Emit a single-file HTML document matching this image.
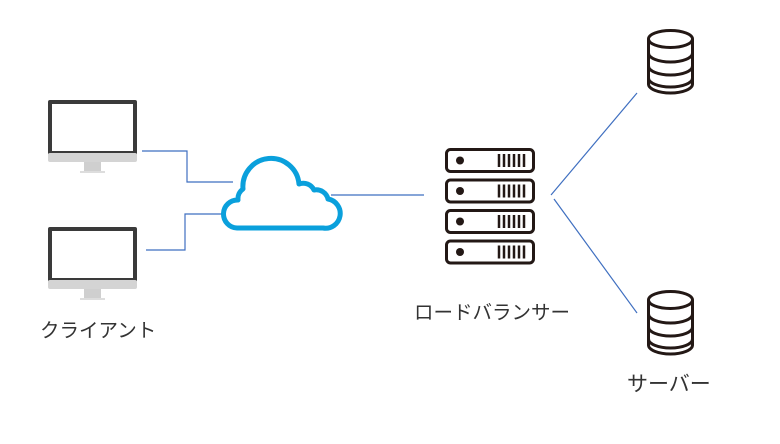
<!DOCTYPE html>
<html><head><meta charset="utf-8"><style>
body{margin:0;background:#fff;width:780px;height:444px;overflow:hidden}
svg{display:block}
text{font-family:"Liberation Sans","Noto Sans CJK JP",sans-serif;font-size:19.5px;fill:#333}
</style></head><body>
<svg width="780" height="444" viewBox="0 0 780 444" xmlns="http://www.w3.org/2000/svg">
<defs>
<g id="mon">
<rect x="0" y="0" width="89" height="55" rx="2" fill="#3a3a3a"/>
<rect x="4" y="4" width="81" height="47" fill="#fff"/>
<rect x="0" y="53" width="89" height="9" rx="2" fill="#d4d4d4"/>
<rect x="36" y="62" width="17" height="10" fill="#cfcfcf"/>
<rect x="32" y="71" width="25" height="2" fill="#ddd"/>
</g>
<g id="srv">
<rect x="1.5" y="1.5" width="87" height="22" rx="4" fill="#fff" stroke="#231815" stroke-width="3"/>
<circle cx="15" cy="12.5" r="4" fill="#231815"/>
<path d="M54 6v13M59 6v13M64 6v13M69 6v13M74 6v13M79 6v13" stroke="#231815" stroke-width="2.5"/>
</g>
<g id="db" fill="#fff" stroke="#231815" stroke-width="3">
<path d="M1.5 10v45a22 9 0 0 0 44 0v-45"/>
<path d="M1.5 24a22 9 0 0 0 44 0M1.5 37a22 9 0 0 0 44 0M1.5 49a22 9 0 0 0 44 0" fill="none"/>
<ellipse cx="23.5" cy="10" rx="22" ry="8.5"/>
</g>
</defs>
<use href="#mon" x="48" y="100"/>
<use href="#mon" x="48" y="227"/>
<g fill="none" stroke="#3f6fc0" stroke-width="1.2">
<path d="M142 151H187V182H233"/>
<path d="M146 250H185V214H223"/>
<path d="M331 195H424"/>
<path d="M551 195L637 93"/>
<path d="M554 199L637 313"/>
</g>
<path d="M237 228 H323 A14 14 0 0 0 328 199 A12 12 0 0 0 314 190 A12 12 0 0 0 299 184 A28 28 0 0 0 243 189 A12 12 0 0 0 238 200 A14 14 0 0 0 237 228 Z" fill="#fff" stroke="#0aa0dc" stroke-width="5" stroke-linejoin="round"/>
<use href="#srv" x="445" y="148"/>
<use href="#srv" x="445" y="178.5"/>
<use href="#srv" x="445" y="209"/>
<use href="#srv" x="445" y="239.5"/>
<use href="#db" x="647" y="29"/>
<use href="#db" x="647" y="290"/>
<text x="40" y="337">クライアント</text>
<text x="414" y="319">ロードバランサー</text>
<text x="627" y="391" style="font-size:21px">サーバー</text>
</svg>
</body></html>
